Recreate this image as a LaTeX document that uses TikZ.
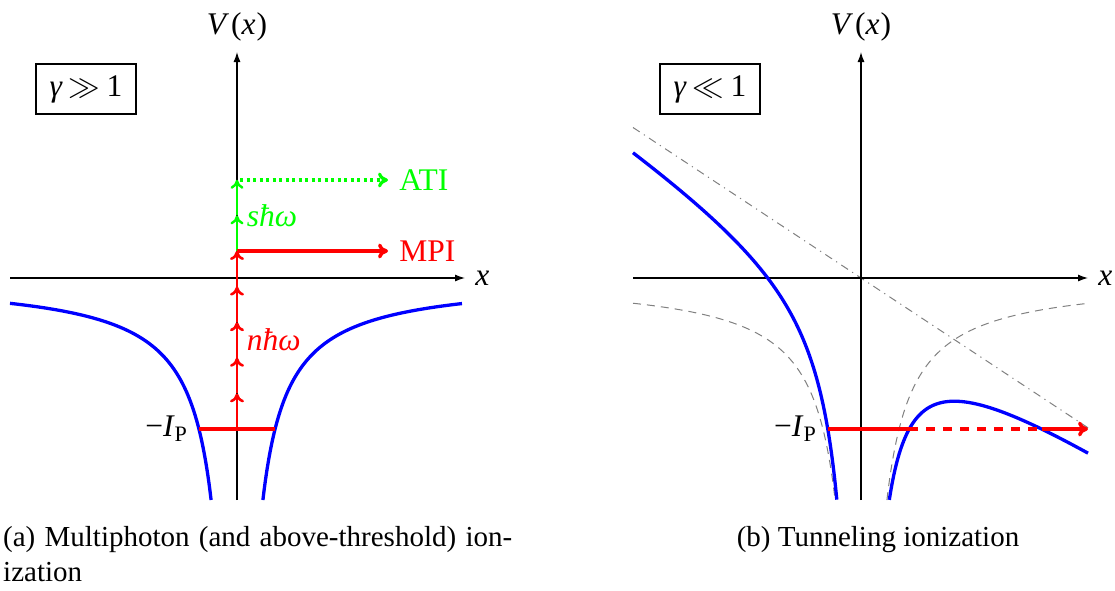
\RequirePackage{fix-cm}
\documentclass[tikz,border=0pt]{standalone}
\usepackage{fontspec}
\setmainfont{Liberation Serif}
\usetikzlibrary{arrows.meta}
\begin{document}
\begin{tikzpicture}[x=1pt,y=-1pt,
  every node/.style={font=\fontsize{31.5}{37}\selectfont, inner sep=9.7pt},
  axis/.style={line width=1.2pt, -{Latex[length=10pt,width=7pt]}},
  well/.style={blue, line width=3.3pt},
  redh/.style={red, line width=3.4pt},
  redv/.style={red, line width=2.6pt, -{To[length=9pt,width=14pt]}},
  greenv/.style={green, line width=2.4pt, -{To[length=9pt,width=13pt]}},
  harrow/.style={-{To[length=10pt,width=15pt]}},
  coul/.style={gray, line width=1pt, dash pattern=on 8pt off 6pt},
  field/.style={gray, line width=1pt, dash pattern=on 8pt off 5pt on 1.2pt off 5pt},
  gbox/.style={draw, line width=1.1pt, minimum width=100pt, minimum height=50pt, inner sep=0pt},
  capt/.style={inner sep=0pt, font=\fontsize{29}{35}\selectfont}
]
\useasboundingbox (0,0) rectangle (1115,590);

% ---------------- left panel (a) ----------------
\coordinate (o1) at (237,278);
\draw[axis] (10,278) -- (465,278) node[right] (x1) {\textit{x}};
\draw[axis] (237,500) -- (237,52) node[above] (v1) {\textit{V}\kern2pt(\textit{x}\kern1pt)};
\draw[well] plot[domain=10:211.1, samples=150, smooth] (\x,{278+5750/(237-\x)});
\draw[well] plot[domain=262.9:462, samples=150, smooth] (\x,{278+5750/(\x-237)});
\draw[redh] (198.9,429) node[left,black] (ip1) {−\textit{I}\textsubscript{P}} -- (275.1,429);
\foreach \k in {0,...,4}
  \draw[redv] (237,{429-35.6*\k}) -- (237,{429-35.6*(\k+1)});
\foreach \k in {0,1}
  \draw[greenv] (237,{251-35.6*\k}) -- (237,{251-35.6*(\k+1)});
\node[right, red] (nhw) at (237,340) {\textit{nħω}};
\node[right, green] (shw) at (237,215.5) {\textit{sħω}};
\draw[redh, harrow] (237,251) -- (388,251) node[right] (mpi) {MPI};
\draw[green, line width=3.2pt, dash pattern=on 3pt off 3.5pt, harrow] (240,180) -- (388,180) node[right] (ati) {ATI};
\node[gbox] (g1) at (86,89) {\textit{γ}\hspace{0.2em}$\gg$\hspace{0.2em}1};

% ---------------- right panel (b) ----------------
\coordinate (o2) at (861,278);
\draw[coul] plot[domain=633:835.1, samples=150, smooth] (\x,{278+5750/(861-\x)});
\draw[coul] plot[domain=886.9:1088, samples=150, smooth] (\x,{278+5750/(\x-861)});
\draw[field] (633,127.5) -- (1088,427.8);
\draw[axis] (633,278) -- (1088,278) node[right] (x2) {\textit{x}};
\draw[axis] (861,500) -- (861,52) node[above] (v2) {\textit{V}\kern2pt(\textit{x}\kern1pt)};
\draw[well] plot[domain=633:836.8, samples=150, smooth] (\x,{278+5750/(861-\x)-0.66*(861-\x)});
\draw[well] plot[domain=889.3:1088, samples=150, smooth] (\x,{278+5750/(\x-861)+0.66*(\x-861)});
\coordinate (t1) at (909.26,429);
\coordinate (t2) at (1041.5,429);
\draw[redh] (827.75,429) node[left,black] (ip2) {−\textit{I}\textsubscript{P}} -- (t1);
\draw[redh, dash pattern=on 9pt off 8pt] (t1) -- (t2);
\draw[redh, harrow] (t2) -- (1088,429);
\node[gbox] (g2) at (710,89) {\textit{γ}\hspace{0.2em}$\ll$\hspace{0.2em}1};

% ---------------- captions ----------------
\node[capt, anchor=base west] (capa) at (3,546) {\makebox[509pt][s]{(a) Multiphoton (and above-threshold) ion-}};
\node[capt, anchor=base west] (capa2) at (3,581) {ization};
\node[capt, anchor=base] (capb) at (878,546) {(b) Tunneling ionization};
\end{tikzpicture}
\end{document}
